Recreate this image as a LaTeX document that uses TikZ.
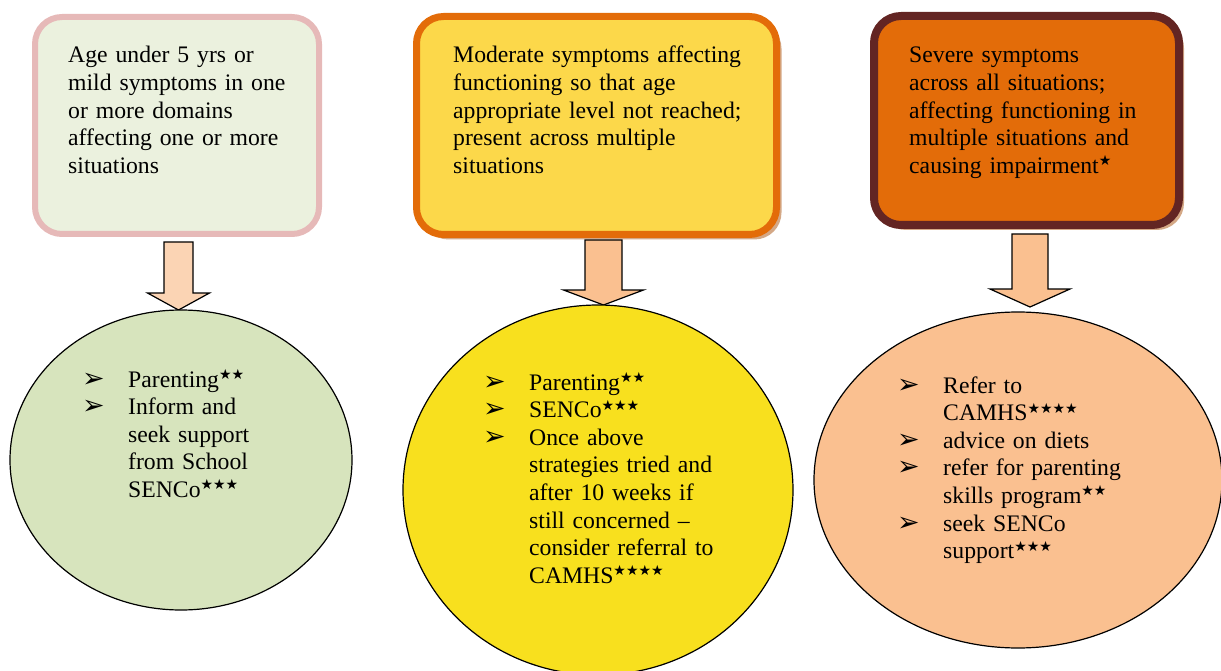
\documentclass[tikz,border=0pt]{standalone}
\usepackage{fontspec}
\setmainfont{Liberation Serif}
\newfontfamily\djv{DejaVu Sans}
\usetikzlibrary{shapes.geometric,shadows}
\definecolor{bonefill}{HTML}{EBF1DE}
\definecolor{boneline}{HTML}{E6B9B8}
\definecolor{btwofill}{HTML}{FCD84A}
\definecolor{btwoline}{HTML}{E36C09}
\definecolor{bthreefill}{HTML}{E36C09}
\definecolor{bthreeline}{HTML}{632523}
\definecolor{shadowtan}{HTML}{D4A886}
\definecolor{arrowone}{HTML}{FBD4B4}
\definecolor{arrowtwo}{HTML}{FAC090}
\definecolor{eonefill}{HTML}{D7E4BD}
\definecolor{etwofill}{HTML}{F8E01E}
\definecolor{ethreefill}{HTML}{FAC090}
\newcommand\stz[1]{\raisebox{7.5pt}{\djv\fontsize{14}{14}\selectfont #1}}
\newcommand\bl{\leavevmode\llap{\makebox[46pt][l]{\djv\fontsize{27}{27}\selectfont ➢}}}
\newcommand\barrow[7]{%
  \draw[blockarrow, fill=#7] (#1-#5,#2) -- (#1+#5,#2) -- (#1+#5,#3) -- (#1+#6,#3) -- (#1,#4) -- (#1-#6,#3) -- (#1-#5,#3) -- cycle;}
\begin{document}
\begin{tikzpicture}[x=1pt,y=-1pt,
  box/.style={draw, rectangle, rounded corners=27pt, inner sep=0pt},
  oval/.style={draw, ellipse, line width=1.2pt, inner sep=0pt},
  blockarrow/.style={draw=black, line width=1.2pt, line join=miter},
  txt/.style={anchor=base west, text width=360pt, align=left, inner sep=0pt,
              font=\fontsize{23.7}{27.6}\selectfont},
  shad/.style={drop shadow={shadow xshift=5pt, shadow yshift=-5pt, fill=shadowtan, opacity=1}}]
\useasboundingbox (0,0) rectangle (1221,671);

% boxes
\node[box, draw=boneline, fill=bonefill, line width=6pt,
      minimum width=284pt, minimum height=217pt] (b1) at (177,125.5) {};
\node[box, shad, draw=btwoline, fill=btwofill, line width=7pt,
      minimum width=360pt, minimum height=218pt] (b2) at (596.5,125.5) {};
\node[box, shad, draw=bthreeline, fill=bthreefill, line width=8pt,
      minimum width=305pt, minimum height=209pt] (b3) at (1026.5,120.5) {};

\node[txt] (t1) at (68,63) {Age under 5 yrs or\\mild symptoms in one\\or more domains\\affecting one or more\\situations};
\node[txt] (t2) at (453,63) {Moderate symptoms affecting\\functioning so that age\\appropriate level not reached;\\present across multiple\\situations};
\node[txt] (t3) at (909,63) {Severe symptoms\\across all situations;\\affecting functioning in\\multiple situations and\\causing impairment\stz{★}};

% block arrows
\barrow{178.5}{242}{293}{310}{14.5}{31}{arrowone}
\barrow{603.5}{240}{290}{305}{18.5}{40}{arrowtwo}
\barrow{1030}{234}{289}{307}{18}{40}{arrowtwo}

% ellipses
\node[oval, fill=eonefill, minimum width=342pt, minimum height=300pt] (e1) at (181,460) {};
\node[oval, fill=etwofill, minimum width=390pt, minimum height=370pt] (e2) at (598,490) {};
\node[oval, fill=ethreefill, minimum width=408pt, minimum height=336pt] (e3) at (1018,480) {};

\node[txt] (l1) at (128,387) {\bl Parenting\stz{★★}\\\bl Inform and\\seek support\\from School\\SENCo\stz{★★★}};
\node[txt] (l2) at (529,390) {\bl Parenting\stz{★★}\\\bl SENCo\stz{★★★}\\\bl Once above\\strategies tried and\\after 10 weeks if\\still concerned --\\consider referral to\\CAMHS\stz{★★★★}};
\node[txt] (l3) at (943,393) {\bl Refer to\\CAMHS\stz{★★★★}\\\bl advice on diets\\\bl refer for parenting\\skills program\stz{★★}\\\bl seek SENCo\\support\stz{★★★}};
\end{tikzpicture}
\end{document}
